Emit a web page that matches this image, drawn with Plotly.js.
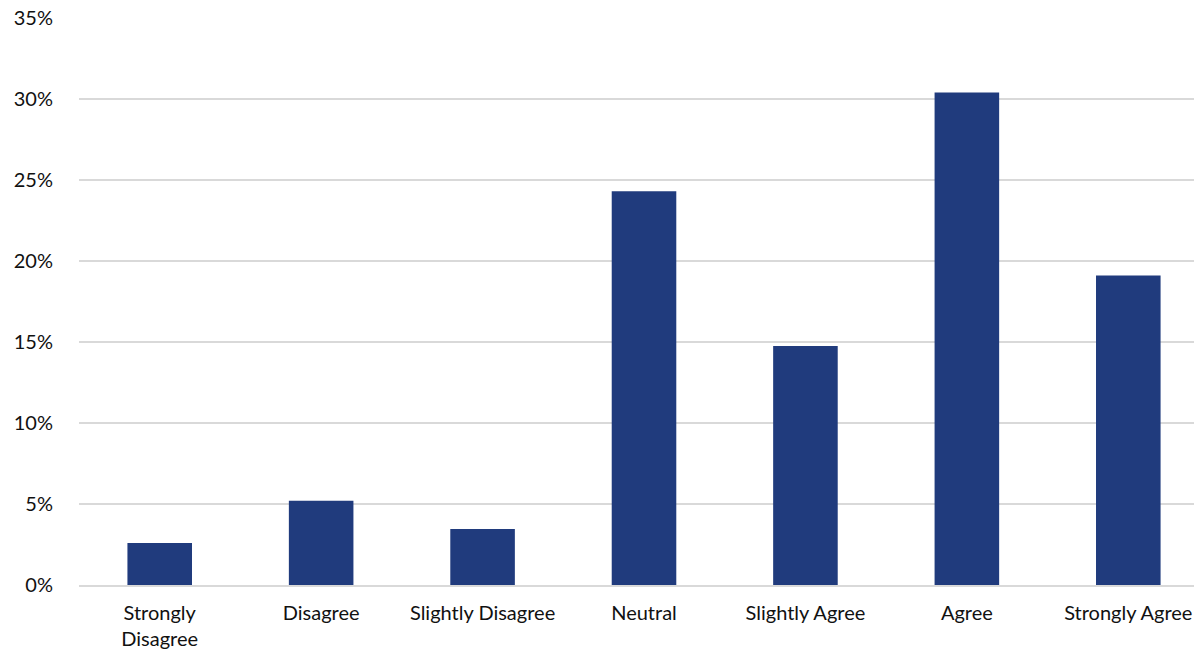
<!DOCTYPE html>
<html>
<head>
<meta charset="utf-8">
<script src="https://cdn.plot.ly/plotly-3.0.1.min.js"></script>
<style>
  html, body { margin: 0; padding: 0; background: #ffffff; }
  #chart { width: 1194px; height: 655px; }
</style>
</head>
<body>
<div id="chart"></div>
<script>
// Response categories (agreement scale) and share of respondents, in percent
const categories = [
  "Strongly<br>Disagree",
  "Disagree",
  "Slightly Disagree",
  "Neutral",
  "Slightly Agree",
  "Agree",
  "Strongly Agree"
];
const shares = [2.6, 5.2, 3.45, 24.3, 14.75, 30.4, 19.1];
const yTickValues = [0, 5, 10, 15, 20, 25, 30, 35];
const yTickLabels = ["0%", "5%", "10%", "15%", "20%", "25%", "30%", "35%"];

const fontFamily = "Lato, 'Open Sans', 'Liberation Sans', sans-serif";

const trace = {
  type: "bar",
  x: categories,
  y: shares,
  width: 0.4,
  marker: { color: "#203B7D", line: { width: 0 } },
  hoverinfo: "x+y"
};

const layout = {
  width: 1194,
  height: 655,
  margin: { l: 79, r: 0, t: 18, b: 70, pad: 0 },
  paper_bgcolor: "#ffffff",
  plot_bgcolor: "#ffffff",
  showlegend: false,
  font: { family: fontFamily, size: 20, color: "#111111" },
  xaxis: {
    type: "category",
    range: [-0.5, 6.407],
    showgrid: false,
    zeroline: false,
    showline: true,
    linecolor: "#d9d9d9",
    linewidth: 2,
    ticks: "",
    ticklabelstandoff: 9,
    tickfont: { family: fontFamily, size: 20, color: "#111111" },
    fixedrange: true
  },
  yaxis: {
    range: [0, 35],
    tickvals: yTickValues,
    ticktext: yTickLabels,
    showgrid: true,
    gridcolor: "#d9d9d9",
    gridwidth: 2,
    zeroline: false,
    showline: false,
    ticks: "",
    ticklabelstandoff: 25,
    tickfont: { family: fontFamily, size: 20, color: "#111111" },
    fixedrange: true
  }
};

Plotly.newPlot("chart", [trace], layout, { displayModeBar: false, staticPlot: true });
</script>
</body>
</html>
